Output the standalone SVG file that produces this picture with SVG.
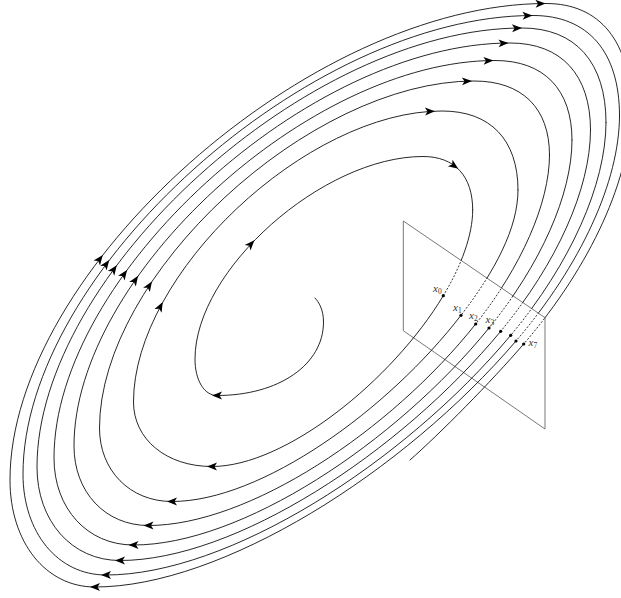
<svg xmlns="http://www.w3.org/2000/svg" xmlns:xlink="http://www.w3.org/1999/xlink" width="621" height="598" viewBox="0 0 621 598">
<style>
.c{fill:none;stroke:#000;stroke-width:0.85;stroke-linecap:round}
.d{fill:none;stroke:#000;stroke-width:0.8;stroke-dasharray:2 1.6}
.pl{fill:none;stroke:#555;stroke-width:0.8}
.lb{font-family:"Liberation Serif","DejaVu Serif",serif;font-style:italic;font-size:11px;fill:#333}
.sb{font-style:normal;font-size:7.5px}
.ar{fill:#000}
.dot{fill:#000}
</style>
<defs>
<path id="ah" d="M5,0 L-5,-4 L-2.5,0 L-5,4 Z"/>
<clipPath id="out"><path clip-rule="evenodd" d="M-20,-20H660V640H-20Z M403.3,221 L545,317.7 L545,429 L403.3,330.7Z"/></clipPath>
<clipPath id="in"><path d="M403.3,221 L545,317.7 L545,429 L403.3,330.7Z"/></clipPath>
</defs>
<rect width="621" height="598" fill="#fff"/>
<g id="plane">
<path class="pl" d="M403.3,221 L545,317.7 L545,429 L403.3,330.7 Z"/>
</g>
<g id="connectors">
<path class="c" d="M315,298 C319,302 323.5,310 323.5,322
C323.5,364.6 278.8,395.5 217,395.5
C204.2,395.5 195,380.2 195,359
C195,269.9 322.7,156.5 423,156.5
C454.7,156.5 472.7,175.9 472.7,210
M443.3,295.7 C392.3,380.5 285.3,466.5 212,466.5
C166.5,466.5 133.5,439.4 133.5,402
C133.5,274 306.3,111 442,111
C490.4,111 518,139.7 518,190
M461,315.3 C388.4,409.7 261.4,501.5 172,501.5
C130,501.5 99.5,470.6 99.5,428
C99.5,275.3 309.2,81 474,81
C522.1,81 549.5,107.9 549.5,155
M475.7,324 C390.2,431.6 248.3,525.5 148.5,525.5
C105.3,525.5 74,492.1 74,446
C74,276.4 309.8,60.5 495,60.5
C544,60.5 572,89.4 572,140
M489,328 C395.2,443.5 241,545 133.5,545
C87.4,545 54,508.5 54,458
C54,275.4 309.4,43 510,43
C561.3,43 590.5,74.6 590.5,130
M500.7,331.3 C399.9,453.3 234.8,560.5 120,560.5
C71.9,560.5 37,521.2 37,467
C37,273.8 308.6,28 522,28
C575.5,28 606,62.3 606,122.5
M510.7,335.3 C403.6,463.6 228,575 106,575
C57.9,575 23,532.6 23,474
C23,272.3 308.6,15.5 533,15.5
C588.1,15.5 619.5,51.8 619.5,115.5
M516,341 C403.4,472.7 221.4,587 95,587
C45.7,587 10,542.1 10,480
C10,270.3 310.2,3.5 546,3.5
C600.1,3.5 631,41.8 631,109
M523.7,344 C491.1,381.9 440,433.6 410,460"/>
<g clip-path="url(#out)">
<path class="c" d="M472.7,210 C472.7,235.35 461.2,265.9 443.3,295.7
M518,190 C518,227.9 495.2,270.9 461,315.3
M549.5,155 C549.5,203.6 520.7,267.4 475.7,324
M572,140 C572,194.6 540.6,264.5 489,328
M590.5,130 C590.5,188.6 556.9,263.2 500.7,331.3
M606,122.5 C606,184.1 570.5,263.8 510.7,335.3
M619.5,115.5 C619.5,181.1 581,265 516,341
M631,109 C631,177.2 591.7,265 523.7,344"/>
</g>
<g clip-path="url(#in)">
<path class="d" d="M472.7,210 C472.7,235.35 461.2,265.9 443.3,295.7
M518,190 C518,227.9 495.2,270.9 461,315.3
M549.5,155 C549.5,203.6 520.7,267.4 475.7,324
M572,140 C572,194.6 540.6,264.5 489,328
M590.5,130 C590.5,188.6 556.9,263.2 500.7,331.3
M606,122.5 C606,184.1 570.5,263.8 510.7,335.3
M619.5,115.5 C619.5,181.1 581,265 516,341
M631,109 C631,177.2 591.7,265 523.7,344"/>
</g>
<g class="ar">
<use xlink:href="#ah" transform="translate(217,395.5) rotate(180)"/>
<use xlink:href="#ah" transform="translate(212,466.5) rotate(180)"/>
<use xlink:href="#ah" transform="translate(172,501.5) rotate(180)"/>
<use xlink:href="#ah" transform="translate(148.5,525.5) rotate(180)"/>
<use xlink:href="#ah" transform="translate(133.5,545) rotate(180)"/>
<use xlink:href="#ah" transform="translate(120,560.5) rotate(180)"/>
<use xlink:href="#ah" transform="translate(106,575) rotate(180)"/>
<use xlink:href="#ah" transform="translate(95,587) rotate(180)"/>
<use xlink:href="#ah" transform="translate(454.2,165.9) rotate(36)"/>
<use xlink:href="#ah" transform="translate(430,111.3) rotate(-2)"/>
<use xlink:href="#ah" transform="translate(467,81.2) rotate(-2)"/>
<use xlink:href="#ah" transform="translate(488.5,60.7) rotate(-2)"/>
<use xlink:href="#ah" transform="translate(503.5,43.2) rotate(-2)"/>
<use xlink:href="#ah" transform="translate(517,28.1) rotate(-2)"/>
<use xlink:href="#ah" transform="translate(527.5,15.6) rotate(-2)"/>
<use xlink:href="#ah" transform="translate(540.5,3.6) rotate(-2)"/>
<use xlink:href="#ah" transform="translate(251,244) rotate(-47)"/>
<use xlink:href="#ah" transform="translate(160.4,306.5) rotate(-62)"/>
<use xlink:href="#ah" transform="translate(149.2,285.7) rotate(-57)"/>
<use xlink:href="#ah" transform="translate(135.3,280) rotate(-56)"/>
<use xlink:href="#ah" transform="translate(124.2,274) rotate(-55)"/>
<use xlink:href="#ah" transform="translate(113.9,269.3) rotate(-55)"/>
<use xlink:href="#ah" transform="translate(106.3,264) rotate(-54)"/>
<use xlink:href="#ah" transform="translate(99.8,259) rotate(-53)"/>
</g>
</g>
<g id="x0"><circle class="dot" cx="443.3" cy="295.7" r="1.6"/><text class="lb" x="433" y="291.5">x<tspan class="sb" dy="2">0</tspan></text></g>
<g id="x1"><circle class="dot" cx="461" cy="315.3" r="1.6"/><text class="lb" x="453" y="310.5">x<tspan class="sb" dy="2">1</tspan></text></g>
<g id="x2"><circle class="dot" cx="475.7" cy="324" r="1.6"/><text class="lb" x="469" y="319">x<tspan class="sb" dy="2">2</tspan></text></g>
<g id="x3"><circle class="dot" cx="489" cy="328" r="1.6"/><text class="lb" x="485.5" y="323">x<tspan class="sb" dy="2">3</tspan></text></g>
<g id="x4"><circle class="dot" cx="500.7" cy="331.3" r="1.6"/></g>
<g id="x5"><circle class="dot" cx="510.7" cy="335.3" r="1.6"/></g>
<g id="x6"><circle class="dot" cx="516" cy="341" r="1.6"/></g>
<g id="x7"><circle class="dot" cx="523.7" cy="344" r="1.6"/><text class="lb" x="528.5" y="346">x<tspan class="sb" dy="2">7</tspan></text></g>
</svg>
